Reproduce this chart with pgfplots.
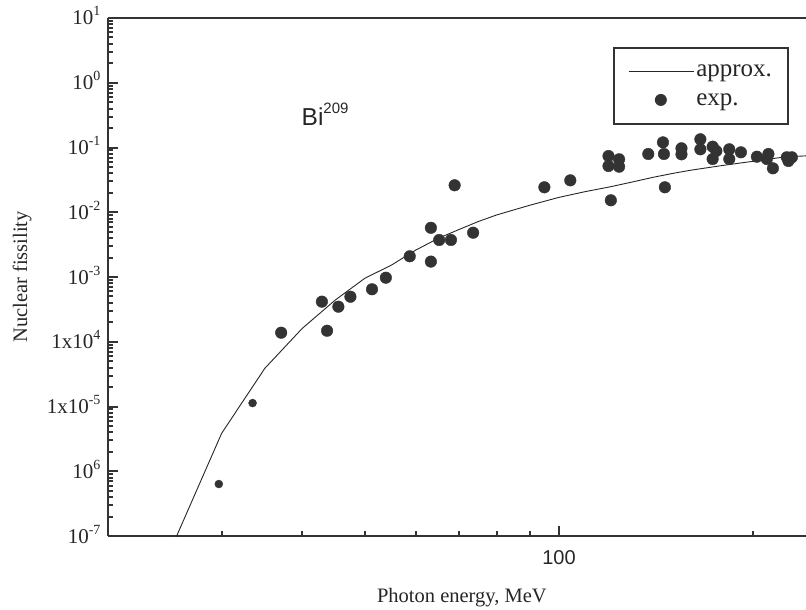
\documentclass[border=0pt]{standalone}
\usepackage{fontspec}
\setmainfont{Liberation Serif}
\newfontfamily\arialf{Liberation Sans}
\usepackage{pgfplots}
\pgfplotsset{compat=1.18}
\newcommand\tl{\fontsize{21}{25}\selectfont}
\newcommand\sps[1]{\raisebox{9pt}{\fontsize{14}{14}\selectfont #1}}

\begin{document}
\begin{tikzpicture}
\begin{axis}[
 name=ax,
 at={(0,0)}, anchor=south west,
 scale only axis, width=698pt, height=518pt,
 xmode=log, ymode=log,
 xmin=20, xmax=241.4, ymin=1e-7, ymax=10,
 axis x line=box, axis y line=left,
 axis line style={-, line width=2.8pt, black!80},
 tick style={line width=2pt, black!80},
 tick align=inside,
 major tick length=10pt, minor tick length=5pt,
 xtick pos=bottom, ytick pos=left,
 xtick={100}, xticklabels={100},
 minor xtick={30,40,50,60,70,80,90,200},
 ytick={1e-7,1e-6,1e-5,1e-4,1e-3,1e-2,1e-1,1,10},
 yticklabels={10\sps{-7},10\sps{6},1x10\sps{-5},1x10\sps{4},10\sps{-3},10\sps{-2},10\sps{-1},10\sps{0},10\sps{1}},
 minor ytick={2e-7,3e-7,4e-7,5e-7,6e-7,7e-7,8e-7,9e-7,
   2e-6,3e-6,4e-6,5e-6,6e-6,7e-6,8e-6,9e-6,
   2e-5,3e-5,4e-5,5e-5,6e-5,7e-5,8e-5,9e-5,
   2e-4,3e-4,4e-4,5e-4,6e-4,7e-4,8e-4,9e-4,
   2e-3,3e-3,4e-3,5e-3,6e-3,7e-3,8e-3,9e-3,
   2e-2,3e-2,4e-2,5e-2,6e-2,7e-2,8e-2,9e-2,
   0.2,0.3,0.4,0.5,0.6,0.7,0.8,0.9,
   2,3,4,5,6,7,8,9},
 xticklabel style={font=\arialf\fontsize{20}{24}\selectfont, anchor=base, yshift=-28pt, black!85},
 yticklabel style={font=\tl, anchor=base east, xshift=-4pt, yshift=-7pt, black!85},
 xlabel={Photon energy, MeV},
 xlabel style={at={(axis description cs:0.507,0)}, anchor=base, yshift=-66pt, font=\fontsize{20.5}{24}\selectfont, black!85},
 ylabel={Nuclear fissility},
 ylabel style={at={(axis description cs:-0.1232,0.5)}, anchor=center, font=\fontsize{20.5}{24}\selectfont, black!85},
 legend style={at={(axis description cs:0.9756,0.944)}, anchor=north east, draw=black!80, line width=2pt,
   font=\fontsize{25}{29}\selectfont, inner xsep=14pt, inner ysep=15pt, row sep=11pt, text=black!85},
 legend cell align=left,
]
\addplot[line width=0.9pt, black!85,
  legend image code/.code={\draw[line width=0.9pt, black!85] (0pt,0pt) -- (65pt,0pt);}]
 table {
25 6.1e-8
30 3.86e-6
35 3.89e-5
40 1.61e-4
45 4.41e-4
50 9.55e-4
55 1.53e-3
60 2.61e-3
65 3.96e-3
70 5.42e-3
75 7.2e-3
80 9.07e-3
90 1.28e-2
100 1.70e-2
110 2.09e-2
120 2.47e-2
130 2.94e-2
140 3.47e-2
150 3.98e-2
160 4.46e-2
170 4.88e-2
180 5.31e-2
190 5.72e-2
200 6.12e-2
210 6.57e-2
220 6.98e-2
230 7.26e-2
240 7.4e-2
245 7.5e-2
};
\addlegendentry{approx.}
\addplot[only marks, mark=*, mark size=5.8pt, black!80, mark options={draw=none, fill=black!80},
  legend image code/.code={\path[draw=none] (0pt,0pt) -- (65pt,0pt); \fill[black!80, draw=none] (32pt,0pt) circle (6pt);}]
 table {
37.1 1.38e-4
42.9 4.16e-4
43.7 1.48e-4
45.5 3.48e-4
47.5 4.96e-4
51.3 6.46e-4
53.9 9.75e-4
58.7 2.09e-3
63.3 5.75e-3
63.3 1.73e-3
65.2 3.73e-3
68.0 3.73e-3
68.9 2.61e-2
73.6 4.83e-3
94.9 2.43e-2
104.1 3.11e-2
119.3 7.39e-2
119.3 5.18e-2
120.3 1.53e-2
123.9 6.57e-2
123.9 5.05e-2
137.5 7.94e-2
144.9 0.120
145.4 7.94e-2
145.9 2.43e-2
154.8 9.72e-2
154.8 7.85e-2
165.6 0.134
165.6 9.38e-2
173.0 0.103
175.3 8.83e-2
173.0 6.64e-2
183.6 9.38e-2
183.6 6.64e-2
191.4 8.43e-2
202.6 7.21e-2
211.1 7.94e-2
209.9 6.64e-2
214.5 4.77e-2
225.4 7.06e-2
229.5 7.06e-2
226.7 6.19e-2
};
\addlegendentry{exp.}
\addplot[only marks, mark=*, mark size=4pt, black!80, mark options={draw=none, fill=black!80}, forget plot]
 table {
29.7 6.35e-7
33.5 1.13e-5
};
\node[anchor=base west, font=\arialf\fontsize{24.5}{28}\selectfont, inner sep=0pt, black!85]
  at (axis cs:39.9,0.215) {Bi\raisebox{12.6pt}{\fontsize{15}{15}\selectfont 209}};
\end{axis}
\pgfresetboundingbox
\path ([shift={(-108pt,-74pt)}]ax.south west) rectangle ([shift={(0pt,18pt)}]ax.north east);
\end{tikzpicture}
\end{document}
